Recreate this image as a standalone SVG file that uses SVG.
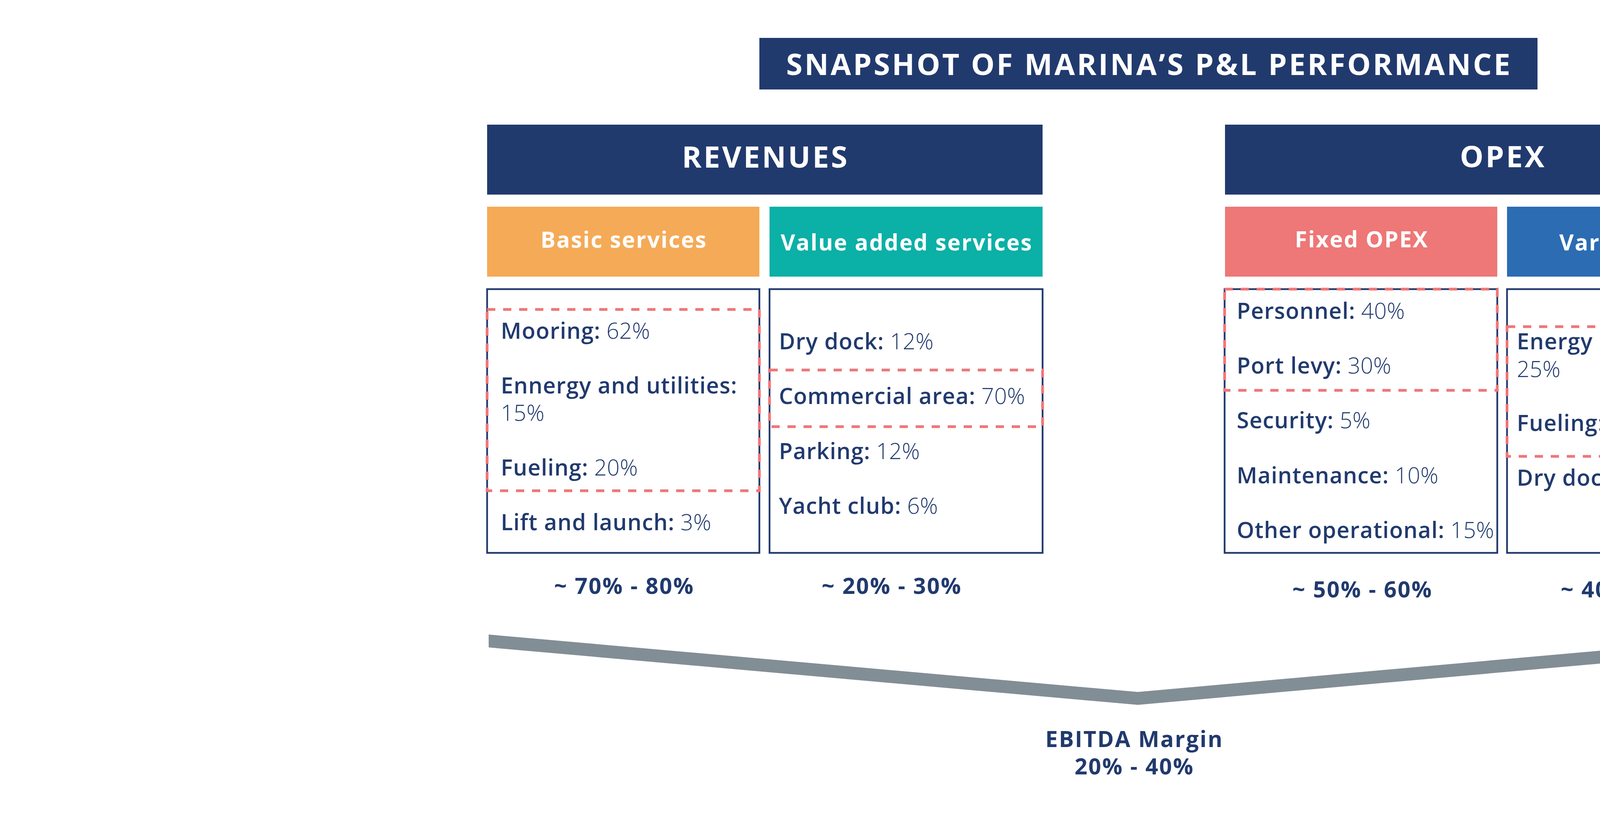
<svg xmlns="http://www.w3.org/2000/svg" width="5649" height="2091" viewBox="0 0 5649 2091">
<style>
text{font-family:"Open Sans","Noto Sans","Liberation Sans",sans-serif;fill:#213A6E}
.hdr{fill:#213A6E}
.ht{fill:#fff;font-weight:700;font-size:76px;text-anchor:middle;letter-spacing:5px}
.st{fill:#fff;font-weight:700;font-size:57px;text-anchor:middle;letter-spacing:2.5px}
.box{fill:#fff;stroke:#213A6E;stroke-width:4.5}
.dash{fill:none;stroke:#EF7677;stroke-width:7;stroke-dasharray:21 20}
.it{font-size:57px}
.b{font-weight:600;letter-spacing:1.2px}
.l{font-weight:300;letter-spacing:0.3px}
.pct{font-size:57px;font-weight:700;text-anchor:middle;letter-spacing:2.8px}
</style>
<g id="title">
<rect class="hdr" x="1944" y="97" width="1992" height="132"/>
<text class="ht" x="2942" y="192">SNAPSHOT OF MARINA’S P&amp;L PERFORMANCE</text>
</g>
<g id="revenues">
<rect class="hdr" x="1247" y="319" width="1422" height="179"/>
<text class="ht" x="1960" y="429">REVENUES</text>
</g>
<g id="opex">
<rect class="hdr" x="3136" y="319" width="1421" height="179"/>
<text class="ht" x="3848" y="428">OPEX</text>
</g>
<g id="basic-services">
<rect fill="#F5AA57" x="1247" y="529" width="697" height="179"/>
<text class="st" x="1597" y="634">Basic services</text>
</g>
<g id="value-added-services">
<rect fill="#0BB0A6" x="1970" y="529" width="699" height="179"/>
<text class="st" x="2321" y="641">Value added services</text>
</g>
<g id="fixed-opex">
<rect fill="#EE7777" x="3136" y="529" width="697" height="179"/>
<text class="st" x="3486" y="633">Fixed OPEX</text>
</g>
<g id="variable-opex">
<rect fill="#2B6CB3" x="3858" y="529" width="699" height="179"/>
<text class="st" x="4209" y="641">Variable OPEX</text>
</g>
<g id="basic-list">
<rect class="box" x="1247" y="740" width="697" height="675"/>
<text class="it" x="1282" y="867"><tspan class="b">Mooring:</tspan> <tspan class="l">62%</tspan></text>
<text class="it" x="1282" y="1007"><tspan class="b">Ennergy and utilities:</tspan></text>
<text class="it l" x="1282" y="1077">15%</text>
<text class="it" x="1282" y="1217"><tspan class="b">Fueling:</tspan> <tspan class="l">20%</tspan></text>
<text class="it" x="1282" y="1357"><tspan class="b">Lift and launch:</tspan> <tspan class="l">3%</tspan></text>
<rect class="dash" x="1247" y="792" width="697" height="464"/>
</g>
<g id="value-list">
<rect class="box" x="1970" y="740" width="699" height="675"/>
<text class="it" x="1994" y="894"><tspan class="b">Dry dock:</tspan> <tspan class="l">12%</tspan></text>
<text class="it" x="1994" y="1034"><tspan class="b">Commercial area:</tspan> <tspan class="l">70%</tspan></text>
<text class="it" x="1994" y="1175"><tspan class="b">Parking:</tspan> <tspan class="l">12%</tspan></text>
<text class="it" x="1994" y="1315"><tspan class="b">Yacht club:</tspan> <tspan class="l">6%</tspan></text>
<rect class="dash" x="1970" y="947" width="699" height="145"/>
</g>
<g id="fixed-list">
<rect class="box" x="3135" y="740" width="698" height="675"/>
<text class="it" x="3166" y="816"><tspan class="b">Personnel:</tspan> <tspan class="l">40%</tspan></text>
<text class="it" x="3166" y="956"><tspan class="b">Port levy:</tspan> <tspan class="l">30%</tspan></text>
<text class="it" x="3166" y="1096"><tspan class="b">Security:</tspan> <tspan class="l">5%</tspan></text>
<text class="it" x="3166" y="1237"><tspan class="b">Maintenance:</tspan> <tspan class="l">10%</tspan></text>
<text class="it" x="3166" y="1377"><tspan class="b">Other operational:</tspan> <tspan class="l">15%</tspan></text>
<rect class="dash" x="3135" y="740" width="698" height="259"/>
</g>
<g id="variable-list">
<rect class="box" x="3858" y="740" width="700" height="675"/>
<text class="it" x="3883" y="894"><tspan class="b">Energy and utilities:</tspan></text>
<text class="it l" x="3883" y="965">25%</text>
<text class="it" x="3883" y="1103"><tspan class="b">Fueling:</tspan> <tspan class="l">55%</tspan></text>
<text class="it" x="3883" y="1243"><tspan class="b">Dry dock:</tspan> <tspan class="l">20%</tspan></text>
<rect class="dash" x="3858" y="836" width="700" height="332"/>
</g>
<g id="shares">
<text class="pct" x="1598" y="1520">~ 70% - 80%</text>
<text class="pct" x="2283" y="1520">~ 20% - 30%</text>
<text class="pct" x="3488" y="1529">~ 50% - 60%</text>
<text class="pct" x="4175" y="1529">~ 40% - 50%</text>
</g>
<g id="connectors">
<polygon fill="#828E96" points="1251,1624 2913,1771 4558,1624 4558,1657 2913,1804 1251,1657"/>
</g>
<g id="ebitda">
<text class="pct" x="2904" y="1912">EBITDA Margin</text>
<text class="pct" x="2904" y="1982">20% - 40%</text>
</g>
</svg>
